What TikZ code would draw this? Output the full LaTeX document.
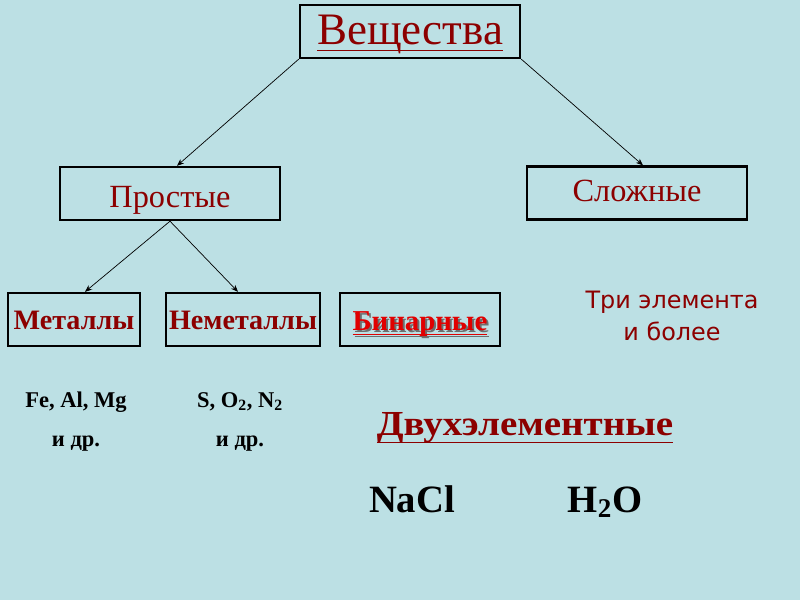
\documentclass[tikz,border=0pt]{standalone}
\usepackage{fontspec}
\setmainfont{Liberation Serif}
\newfontfamily\verd{DejaVu Sans}
\usepackage{tikz}
\usepackage{xcolor}
\usetikzlibrary{arrows.meta,positioning,calc}
\definecolor{slidebg}{RGB}{188,224,228}
\definecolor{darkred}{RGB}{140,0,0}
\definecolor{brightred}{RGB}{225,0,0}
\definecolor{shadowgray}{RGB}{110,110,110}
\newcommand{\ulword}[2]{\underline{\raisebox{0pt}[\height][#1]{#2}}}

\begin{document}
\begin{tikzpicture}[x=0.025cm,y=-0.025cm,
  box/.style={draw,line width=1.8pt,minimum height=1.32cm,inner sep=0pt,text depth=0pt},
  link/.style={-{Stealth[length=5pt,width=4pt]},line width=0.5pt},
  formula/.style={anchor=base,font=\bfseries\fontsize{16}{16}\selectfont},
  bigformula/.style={anchor=base,font=\bfseries\fontsize{27.5}{27.5}\selectfont}]
\fill[slidebg] (0,0) rectangle (800,600);
\useasboundingbox (0,0) rectangle (800,600);
% top level
\node[box,minimum width=5.5cm,text height=18pt,text=darkred,font=\fontsize{32}{32}\selectfont] (subst) at (410,31.5) {\ulword{3pt}{Вещества}};
\node[box,minimum width=5.5cm,text height=19.2pt,text=darkred,font=\fontsize{23}{23}\selectfont] (simple) at (170,193.5) {Простые};
\node[box,minimum width=5.5cm,text height=11.4pt,text=darkred,font=\fontsize{23}{23}\selectfont] (complex) at (637,193) {Сложные};
\draw[link] (subst.south west) -- ($(simple.north)+(7,0)$);
\draw[link] (subst.south east) -- ($(complex.north)+(6,0)$);
% second level
\node[box,minimum width=3.3cm,text height=13.5pt,text=darkred,font=\bfseries\fontsize{20}{20}\selectfont] (metal) at (74,319.5) {Металлы};
\node[box,minimum width=3.85cm,text height=14.5pt,text=darkred,font=\bfseries\fontsize{20}{20}\selectfont] (nonmetal) at (243,319.5) {Неметаллы};
\node[box,minimum width=4cm] (binary) at (420,319.5) {};
\node[text=shadowgray,anchor=base,font=\bfseries\fontsize{20.5}{20.5}\selectfont] (binshadow) at ($(binary)+(2,12.5)$) {\ulword{1.5pt}{Бинарные}};
\node[text=brightred,anchor=base,font=\bfseries\fontsize{20.5}{20.5}\selectfont] (bintext) at ($(binary)+(0,10.5)$) {\ulword{1.5pt}{Бинарные}};
\draw[link] (simple.south) -- ($(metal.north)+(11,0)$);
\draw[link] (simple.south) -- ($(nonmetal.north)+(-5,0)$);
\node[text=darkred,font=\verd\fontsize{17}{23}\selectfont,align=center] (three) at (672,316) {Три элемента\\и более};
% examples
\node[formula] (feal) at (76,407) {Fe, Al, Mg};
\node[formula] (feetc) at (76,446) {и др.};
\node[formula] (sn) at (240,407) {S, O\textsubscript{2}, N\textsubscript{2}};
\node[formula] (snetc) at (240,446) {и др.};
\node[text=darkred,anchor=base,font=\bfseries\fontsize{25}{25}\selectfont] (twoel) at (525,435) {\scalebox{1.11}[1]{\ulword{4pt}{Двухэлементные}}};
\node[bigformula] (nacl) at (412,512) {NaCl};
\node[bigformula] (water) at (605,512) {H\textsubscript{2}O};
\end{tikzpicture}
\end{document}
